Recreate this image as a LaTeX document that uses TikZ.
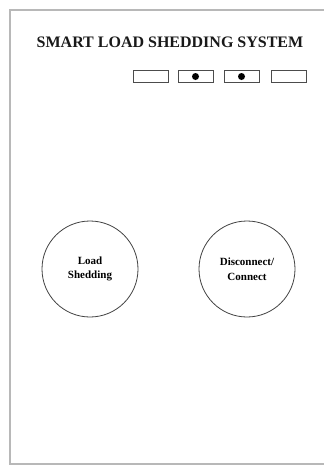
\documentclass[tikz,border=0pt]{standalone}
\usepackage{fontspec}
\setmainfont{Liberation Serif}
\begin{document}
\begin{tikzpicture}[x=1pt,y=-1pt,
  frameline/.style={draw=black!28,line width=1.6pt},
  lamp/.style={draw=black!70,line width=0.9pt,minimum width=35pt,minimum height=12pt,inner sep=0pt},
  lampdot/.style={circle,fill=black,minimum size=7pt,inner sep=0pt},
  button/.style={circle,draw=black!75,line width=0.8pt,minimum size=96pt,inner sep=0pt,
    align=center,font=\fontsize{11}{14.5}\selectfont\bfseries}]
  \useasboundingbox (0,0) rectangle (324,466);
  \clip (0,0) rectangle (324,466);
  % panel outline, open to the right
  \draw[frameline] (340,10) -- (10,10) -- (10,464) -- (340,464);
  % heading
  \node[font=\fontsize{16}{18}\selectfont\bfseries,text=black!90] (title) at (170,42)
    {SMART LOAD SHEDDING SYSTEM};
  % indicator lamps
  \node[lamp] (l1) at (151,76.5) {};
  \node[lamp] (l2) at (195.5,76.5) {};
  \node[lamp] (l3) at (241.5,76.5) {};
  \node[lamp] (l4) at (288.5,76.5) {};
  \node[lampdot] (d2) at (l2.center) {};
  \node[lampdot] (d3) at (l3.center) {};
  % push buttons
  \node[button] (shed) at (90,269) {Load\\Shedding};
  \node[button] (conn) at (247,269) {Disconnect/\\Connect};
\end{tikzpicture}
\end{document}
